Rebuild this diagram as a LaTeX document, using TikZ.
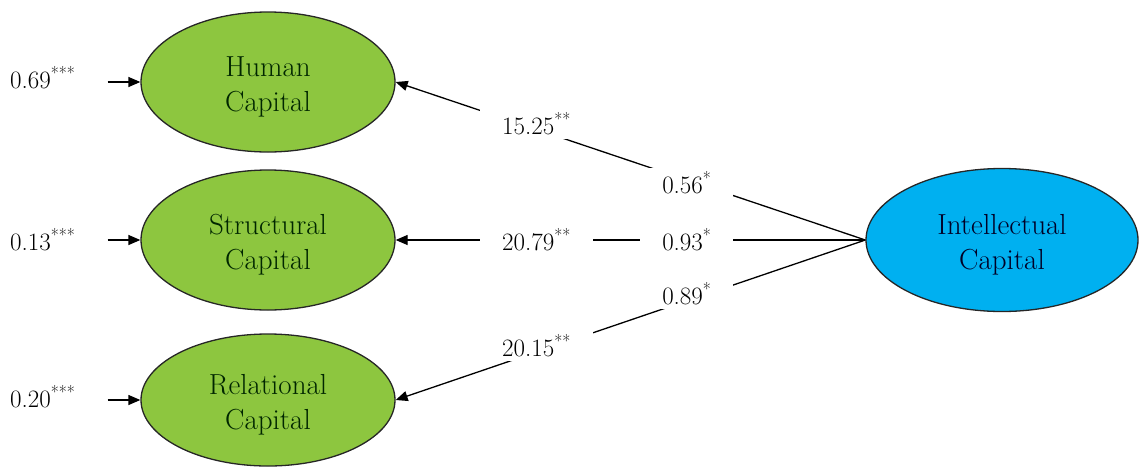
\documentclass[tikz,border=0pt]{standalone}
\usetikzlibrary{shapes.geometric,arrows.meta}
\definecolor{capgreen}{RGB}{141,198,63}
\definecolor{capblue}{RGB}{0,176,240}
\tikzset{
    capnode/.style={ellipse, draw=black!85, line width=1.3pt, inner sep=0pt,
        minimum width=254pt, minimum height=140pt, align=center, text height=65pt,
        text=black!85!green, font=\fontsize{29}{35}\selectfont},
    coef/.style={fill=white, inner xsep=22pt, inner ysep=4pt,
        font=\fontsize{25}{30}\selectfont},
    errlbl/.style={anchor=west, inner sep=0pt, font=\fontsize{25}{30}\selectfont},
    arr/.style={line width=1.3pt, -{Triangle[length=12pt,width=10pt]}}
}
\begin{document}
\begin{tikzpicture}[x=1pt, y=-1pt]
    \useasboundingbox (0,0) rectangle (1139,469);
    \node[capnode, fill=capgreen] (hc) at (268,82) {Human\\Capital};
    \node[capnode, fill=capgreen] (sc) at (268,240) {Structural\\Capital};
    \node[capnode, fill=capgreen, minimum height=132pt] (rc) at (268,400) {Relational\\Capital};
    \node[capnode, fill=capblue, text=black!85!blue, minimum width=272pt, minimum height=143pt] (ic) at (1002,240) {Intellectual\\Capital};
    % error terms
    \node[errlbl] (hce) at (10,78) {0.69\textsuperscript{***}};
    \node[errlbl] (sce) at (10,240) {0.13\textsuperscript{***}};
    \node[errlbl] (rce) at (10,397) {0.20\textsuperscript{***}};
    \draw[arr, shorten <=32pt] (hce.east |- hc.west) -- (hc.west);
    \draw[arr, shorten <=32pt] (sce.east |- sc.west) -- (sc.west);
    \draw[arr, shorten <=32pt] (rce.east |- rc.west) -- (rc.west);
    % paths
    \draw[arr] (ic.west) -- node[coef, pos=0.38, yshift=-3pt] {0.56\textsuperscript{*}}
        node[coef, pos=0.70, yshift=6pt] {15.25\textsuperscript{**}} (hc.east);
    \draw[arr] (ic.west) -- node[coef, pos=0.38] {0.93\textsuperscript{*}}
        node[coef, pos=0.70] {20.79\textsuperscript{**}} (sc.east);
    \draw[arr] (ic.west) -- node[coef, pos=0.38, yshift=7pt] {0.89\textsuperscript{*}}
        node[coef, pos=0.70, yshift=6pt] {20.15\textsuperscript{**}} (rc.east);
\end{tikzpicture}
\end{document}
